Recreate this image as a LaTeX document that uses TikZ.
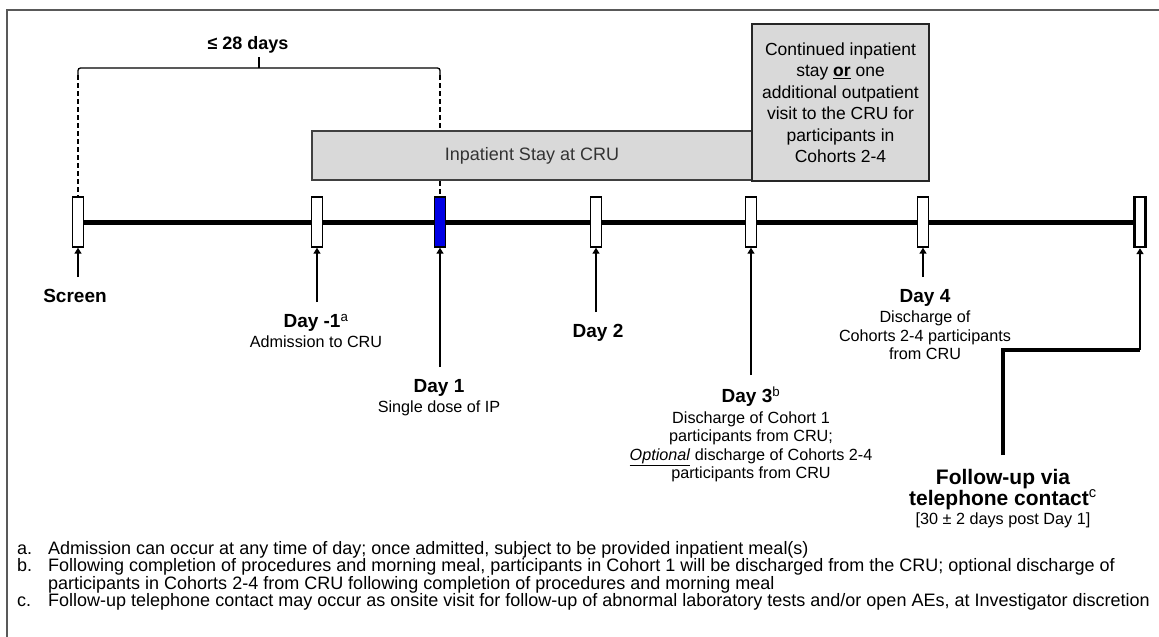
\documentclass[tikz,border=0pt]{standalone}
\usepackage{fontspec}
\setmainfont{Liberation Sans}
\usetikzlibrary{arrows.meta,positioning,backgrounds}

\newcommand{\ttl}[1]{{\bfseries\fontsize{19}{22}\selectfont #1}}
\newcommand{\ttlbig}[1]{{\bfseries\fontsize{21}{24}\selectfont #1}}

\tikzset{
  visit/.style={draw, line width=1.4pt, fill=white, minimum width=11pt, minimum height=50pt, inner sep=0pt},
  stay/.style={draw=black!75, line width=1.5pt, fill=black!15, inner sep=0pt},
  lbl/.style={align=center, anchor=north, font=\fontsize{16.2}{18.5}\selectfont, inner sep=1pt, outer ysep=11pt},
  pt/.style={line width=1.4pt, -{Triangle[width=7pt,length=6pt]}},
  dsh/.style={line width=2.2pt, dash pattern=on 5pt off 3pt},
  fnote/.style={anchor=base west, font=\fontsize{18}{18}\selectfont, inner sep=0pt},
}

\begin{document}
\begin{tikzpicture}[x=1pt, y=-1pt]
    \useasboundingbox (0,0) rectangle (1159,637);
    % Frame
    \draw[black!65, line width=1.3pt] (1159,10) -- (7,10) -- (7,637);
    % Visits on the time line
    \node[visit] (scr) at (78,222) {};
    \node[visit] (dm1) at (317,222) {};
    \node[visit, fill=blue!90!black] (d1) at (440,222) {};
    \node[visit] (d2) at (596,222) {};
    \node[visit] (d3) at (751,222) {};
    \node[visit] (d4) at (923,222) {};
    \node[visit, line width=2.4pt] (fu) at (1140,222) {};
    \begin{scope}[on background layer]
        \fill[white] (0,0) rectangle (1159,637);
        \draw[line width=5pt] (scr) -- (fu);
    \end{scope}
    % Stays at the CRU
    \node[stay, minimum width=440pt, minimum height=49pt, text=black!80,
          font=\fontsize{18}{21}\selectfont] (inp) at (532,155.5) {Inpatient Stay at CRU};
    \node[stay, draw=black!85, minimum width=177pt, minimum height=157pt, align=center,
          font=\fontsize{17.5}{21.5}\selectfont] (cont) at (840.5,102.5)
          {Continued inpatient\\ stay \underline{\textbf{or}} one\\ additional outpatient\\
           visit to the CRU for\\ participants in\\ Cohorts 2-4};
    % Screening window
    \node[font=\bfseries\fontsize{18}{21}\selectfont] (lim) at (248,45) {≤ 28 days};
    \coordinate (brl) at (78,68);
    \coordinate (brm) at (259,68);
    \coordinate (brr) at (440,68);
    \draw[line width=1.3pt, rounded corners=2.5pt] ([yshift=-7pt]brl) -- (brl) -- (brr) -- ([yshift=-7pt]brr);
    \draw[line width=1.5pt] (brm) -- (brm |- lim.south);
    \draw[dsh] ([yshift=-7pt]brl) -- (scr.north);
    \draw[dsh] ([yshift=-7pt]brr) -- (brr |- inp.north);
    \draw[dsh] (d1.north |- inp.south) -- (d1.north);
    % Labels under the visits
    \node[lbl] (lscr) at (75,277) {\ttl{Screen}};
    \node[lbl] (ldm1) at (316,302) {\ttl{Day -1\textsuperscript{\mdseries a}}\\[2pt] Admission to CRU};
    \node[lbl] (ld1) at (439,367) {\ttl{Day 1}\\[2pt] Single dose of IP};
    \node[lbl] (ld2) at (598,312) {\ttl{Day 2}};
    \node[lbl] (ld3) at (751,375) {\ttl{Day 3\textsuperscript{\mdseries b}}\\[2pt] Discharge of Cohort 1\\
          participants from CRU;\\ \underline{\textit{Optional}} discharge of Cohorts 2-4\\ participants from CRU};
    \node[lbl] (ld4) at (925,277) {\ttl{Day 4}\\[2pt] Discharge of\\ Cohorts 2-4 participants\\ from CRU};
    \node[lbl, outer ysep=13pt] (lfu) at (1003,455) {\ttlbig{Follow-up via}\\ \ttlbig{telephone contact\textsuperscript{\mdseries c}}\\[1pt]
          [30 ± 2 days post Day 1]};
    \draw[pt] (scr.south |- lscr.north) -- (scr.south);
    \draw[pt] (dm1.south |- ldm1.north) -- (dm1.south);
    \draw[pt] (d1.south |- ld1.north) -- (d1.south);
    \draw[pt] (d2.south |- ld2.north) -- (d2.south);
    \draw[pt] (d3.south |- ld3.north) -- (d3.south);
    \draw[pt, line width=2.8pt] (d4.south |- ld4.north) -- (d4.south);
    \coordinate (bend) at (1140,350);
    \draw[line width=3.2pt] (lfu.north) |- (bend);
    \draw[pt, line width=2pt] (bend) -- (fu.south);
    % Footnotes
    \foreach \l/\y in {a/554, b/571.5, c/606.5}
        \node[fnote] (f\l) at (17,\y) {\l.};
    \node[fnote] (ta) at (48,554) {Admission can occur at any time of day; once admitted, subject to be provided inpatient meal(s)};
    \node[fnote] (tb) at (48,571.5) {Following completion of procedures and morning meal, participants in Cohort 1 will be discharged from the CRU; optional discharge of};
    \node[fnote] (tb2) at (48,589) {participants in Cohorts 2-4 from CRU following completion of procedures and morning meal};
    \node[fnote] (tc) at (48,606.5) {Follow-up telephone contact may occur as onsite visit for follow-up of abnormal laboratory tests and/or open AEs, at Investigator discretion};
\end{tikzpicture}
\end{document}
